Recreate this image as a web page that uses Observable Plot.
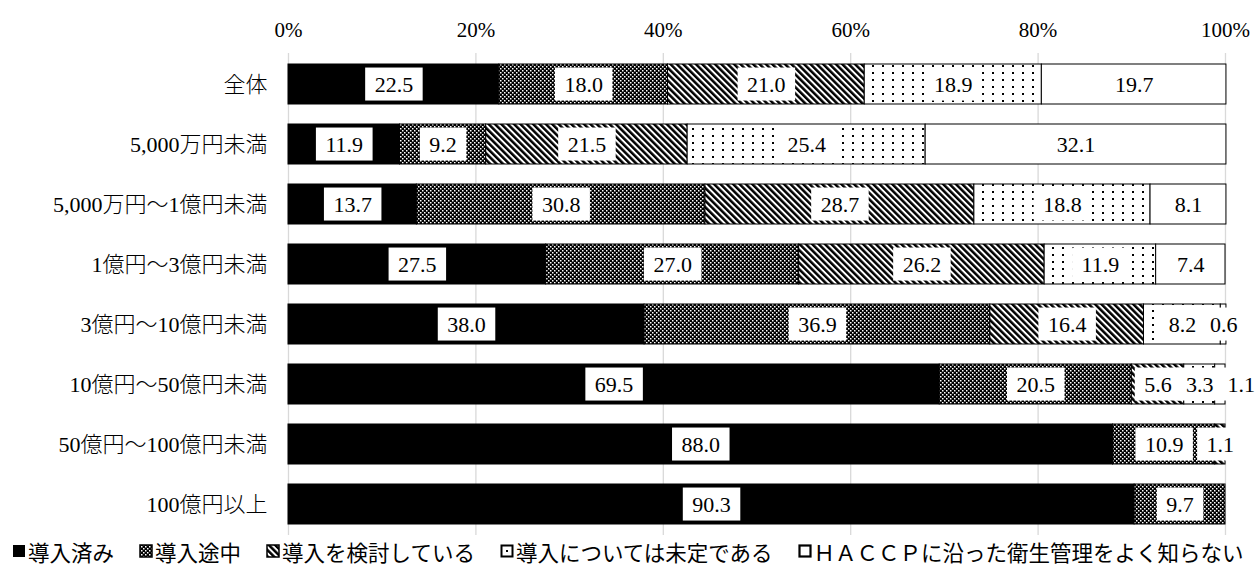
<!DOCTYPE html>
<html><head><meta charset="utf-8">
<script src="https://cdn.jsdelivr.net/npm/d3@7"></script>
<script src="https://cdn.jsdelivr.net/npm/@observablehq/plot@0.6"></script>
<style>
body{margin:0;background:#fff;}
#chart{position:relative;width:1257px;height:567px;background:#fff;}
#legend{position:absolute;left:12px;top:537px;height:28px;display:flex;gap:25px;align-items:center;font-family:"Noto Sans CJK JP",sans-serif;font-size:21.5px;color:#000;}
.item{display:flex;align-items:center;white-space:nowrap}
.item svg{margin-right:2px;flex:none}
</style></head><body>
<svg width="0" height="0" style="position:absolute"><defs>
<pattern id="p-check" width="4" height="4" patternUnits="userSpaceOnUse"><rect width="4" height="4" fill="#000"/><rect x="0" y="0" width="1.5" height="1.5" fill="#fff"/><rect x="2" y="2" width="1.5" height="1.5" fill="#fff"/></pattern>
<pattern id="p-diag" width="4.5" height="6" patternUnits="userSpaceOnUse" patternTransform="rotate(-45)"><rect width="4.5" height="6" fill="#fff"/><rect width="2.5" height="6" fill="#000"/></pattern>
<pattern id="p-dots" width="10" height="7" patternUnits="userSpaceOnUse"><rect width="10" height="7" fill="#fff"/><rect x="2" y="2" width="2" height="2" fill="#000"/></pattern>
</defs></svg>
<div id="chart"><div id="legend"></div></div>
<script>
const groups = ["全体","5,000万円未満","5,000万円～1億円未満","1億円～3億円未満","3億円～10億円未満","10億円～50億円未満","50億円～100億円未満","100億円以上"];
const categories = ["導入済み","導入途中","導入を検討している","導入については未定である","ＨＡＣＣＰに沿った衛生管理をよく知らない"];
const done        = [22.5, 11.9, 13.7, 27.5, 38.0, 69.5, 88.0, 90.3];
const inProgress  = [18.0,  9.2, 30.8, 27.0, 36.9, 20.5, 10.9,  9.7];
const considering = [21.0, 21.5, 28.7, 26.2, 16.4,  5.6,  1.1,  0];
const undecided   = [18.9, 25.4, 18.8, 11.9,  8.2,  3.3,  0,    0];
const unknown     = [19.7, 32.1,  8.1,  7.4,  0.6,  1.1,  0,    0];
const xTicks = [0, 20, 40, 60, 80, 100];
const fills = ["#000", "url(#p-check)", "url(#p-diag)", "url(#p-dots)", "#fff"];
const nudged = [{group: "10億円～50億円未満", cat: categories[4]}];

const series = [done, inProgress, considering, undecided, unknown];
const table = [];
groups.forEach((g, i) => series.forEach((s, j) => table.push({group: g, cat: categories[j], value: s[i]})));
const isNudged = d => nudged.some(n => n.group === d.group && n.cat === d.cat);
const bars = table.filter(d => d.value > 0);

const serif = "'Liberation Serif','Noto Sans CJK JP',serif";
const plot = Plot.plot({
  width: 1257, height: 537,
  marginLeft: 288, marginRight: 32, marginTop: 53, marginBottom: 2,
  style: {fontFamily: serif, fontSize: "22px", color: "#000", background: "#fff"},
  x: {domain: [0, 100]},
  y: {domain: groups, paddingInner: 0.338, paddingOuter: 0.157},
  color: {domain: categories, range: fills},
  marks: [
    Plot.gridX(xTicks, {stroke: "#d9d9d9", strokeOpacity: 1, strokeWidth: 1.3}),
    Plot.axisX({anchor: "top", ticks: xTicks, tickSize: 0, tickPadding: 17, tickFormat: d => d + "%", label: null, fontSize: 21, fill: "#000"}),
    Plot.axisY({tickSize: 0, tickPadding: 21, label: null, fontSize: 22, fontWeight: 300, fill: "#000"}),
    Plot.barX(bars, {x: "value", y: "group", fill: "cat", stroke: "#000", strokeWidth: 1}),
    Plot.text(bars, Plot.stackX({x: "value", y: "group", z: "cat",
      text: d => isNudged(d) ? null : d.value.toFixed(1), fill: "#000", fontSize: 22})),
    Plot.text(bars, Plot.stackX({x: "value", y: "group", z: "cat",
      text: d => isNudged(d) ? d.value.toFixed(1) : null, dx: 21, fill: "#000", fontSize: 22}))
  ]
});
const chart = document.getElementById("chart");
chart.prepend(plot);

plot.querySelectorAll('g[aria-label="text"] text').forEach(t => {
  const bb = t.getBBox();
  const r = document.createElementNS("http://www.w3.org/2000/svg", "rect");
  r.setAttribute("x", bb.x - 9.5);
  r.setAttribute("width", bb.width + 19);
  r.setAttribute("y", bb.y + bb.height / 2 - 16.5);
  r.setAttribute("height", 33);
  r.setAttribute("fill", "#fff");
  r.setAttribute("stroke", "none");
  const tr = t.getAttribute("transform");
  if (tr) r.setAttribute("transform", tr);
  t.parentNode.insertBefore(r, t);
});

const legend = document.getElementById("legend");
const swatch = [
  '<rect x="1" y="1" width="12" height="12" fill="#000"/>',
  '<rect x="1" y="1" width="12" height="12" fill="url(#p-check)" stroke="#000" stroke-width="1.5"/>',
  '<rect x="1" y="1" width="12" height="12" fill="url(#p-diag)" stroke="#000" stroke-width="1.5"/>',
  '<rect x="1.5" y="1.5" width="11" height="11" fill="#fff" stroke="#000" stroke-width="2"/><rect x="6" y="6" width="2" height="2" fill="#000"/>',
  '<rect x="1.5" y="1.5" width="11" height="11" fill="#fff" stroke="#000" stroke-width="2.2"/>'
];
categories.forEach((c, i) => {
  const el = document.createElement("div");
  el.className = "item";
  el.innerHTML = `<svg width="14" height="14">${swatch[i]}</svg><span>${c}</span>`;
  legend.append(el);
});
</script>
</body></html>
